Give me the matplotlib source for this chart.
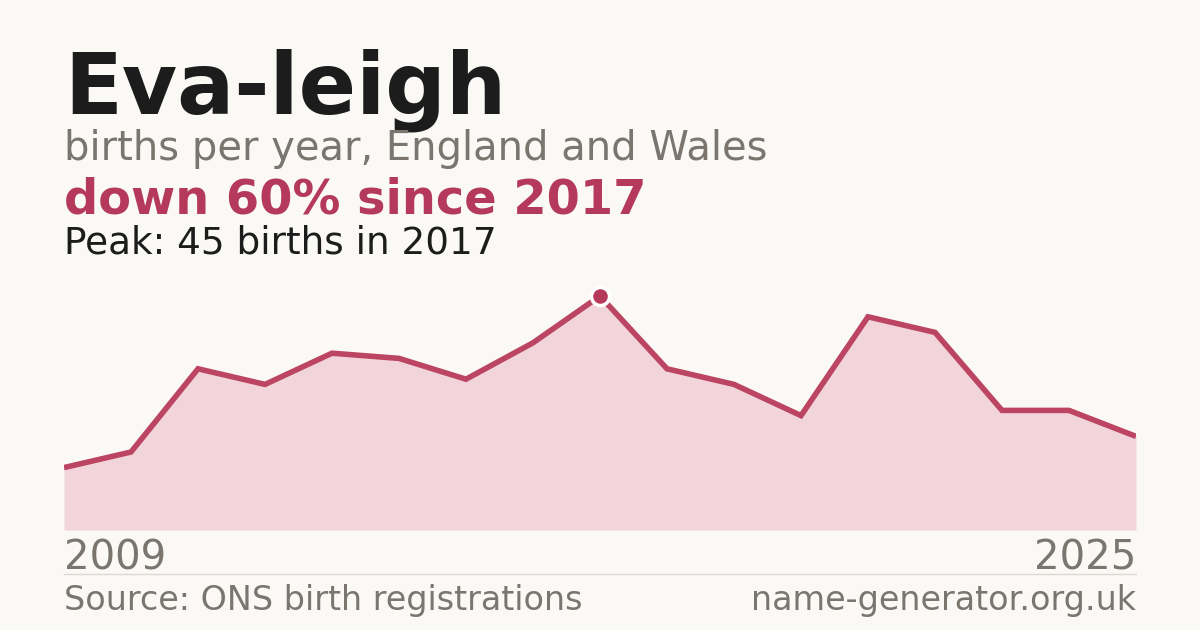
import numpy as np
import matplotlib.pyplot as plt

# births per year for the name
years = list(range(2009, 2026))
births = [12, 15, 31, 28, 34, 33, 29, 36, 45, 31, 28, 22, 41, 38, 23, 23, 18]

name = "Eva-leigh"
subtitle = "births per year, England and Wales"
source = "Source: ONS birth registrations"
site = "name-generator.org.uk"

bg = "#faf9f5"
red = "#b5395a"
line_red = "#bb4563"
fill = "#f2d5da"
grey = "#7a756f"
dark = "#1c1c1c"

plt.rcParams['font.family'] = ['DejaVu Sans']

fig = plt.figure(figsize=(12, 6.3), dpi=100, facecolor=bg)

peak_i = int(np.argmax(births))
peak_year = years[peak_i]
peak_val = births[peak_i]
drop = round(100 * (peak_val - births[-1]) / peak_val)

# header texts
fig.text(64/1200, 1 - 113/630, name, fontsize=61, fontweight='bold', color=dark, va='baseline')
fig.text(64/1200, 1 - 160/630, subtitle, fontsize=28.8, color=grey, va='baseline')
fig.text(64/1200, 1 - 214/630, f"down {drop}% since {peak_year}", fontsize=34.5, fontweight='bold',
         color=red, va='baseline')
fig.text(64/1200, 1 - 254/630, f"Peak: {peak_val} births in {peak_year}", fontsize=26.9, color=dark,
         va='baseline')

# chart area
ax = fig.add_axes([64/1200, 1 - 530/630, 1072/1200, 260/630])
ax.set_facecolor(bg)
ax.fill_between(years, births, 0, color=fill, lw=0)
ax.plot(years, births, color=line_red, lw=4, solid_joinstyle='miter', solid_capstyle='butt')
ax.plot(peak_year, peak_val, 'o', ms=13, color=red, mec='white', mew=2.5, zorder=5)
ax.set_xlim(years[0], years[-1])
ax.set_ylim(0, 50)
ax.axis('off')

# year labels, divider, footer
fig.text(64/1200, 1 - 570/630, str(years[0]), fontsize=28.9, color=grey, va='baseline')
fig.text(1136/1200, 1 - 570/630, str(years[-1]), fontsize=28.9, color=grey, va='baseline', ha='right')
fig.add_artist(plt.Line2D([64/1200, 1136/1200], [1 - 574/630, 1 - 574/630], color='#dcd9d2', lw=1))
fig.text(64/1200, 1 - 610/630, source, fontsize=24, color=grey, va='baseline')
fig.text(1136/1200, 1 - 610/630, site, fontsize=24, color=grey, va='baseline', ha='right')

fig.savefig("out.png", dpi=100, facecolor=bg)
